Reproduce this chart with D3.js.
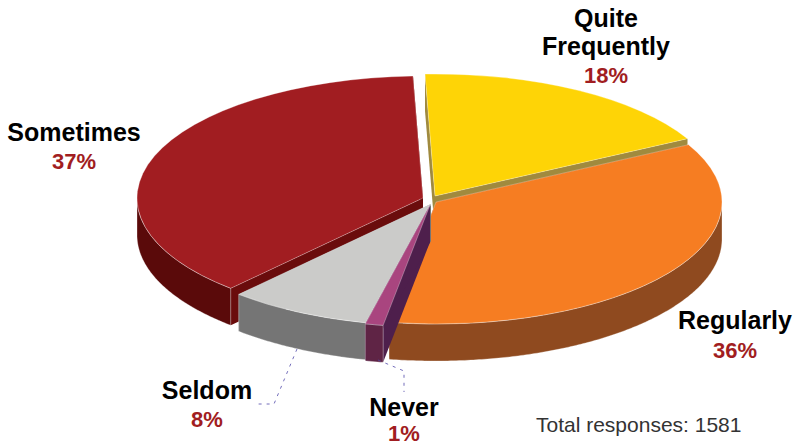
<!DOCTYPE html>
<html>
<head>
<meta charset="utf-8">
<script src="https://cdn.jsdelivr.net/npm/d3@7"></script>
<style>
  html, body { margin: 0; padding: 0; background: #fff; }
  text { font-family: "Liberation Sans", Arial, sans-serif; }
</style>
</head>
<body>
<svg id="chart" width="795" height="446"></svg>
<script>
const categories = ["Quite Frequently", "Regularly", "Never", "Seldom", "Sometimes"];
const percents = [18, 36, 1, 8, 37];
const totalResponses = 1581;

const topColors = ["#fed406", "#f67d22", "#a9457f", "#cbcbc9", "#a11d21"];
const wallColors = ["#a08a3e", "#8f4a1f", "#5f2445", "#757575", "#5a0a0a"];
const cutColors = ["#a08a3e", "#8f4a1f", "#4e1f4c", "#757575", "#6a0c0c"];

// how far each slice is pulled from the pie centre
const explode = [[5, -4], [6, 2], [0, 5], [1, 4], [-7, -2]];
// back to front
const drawOrder = [0, 4, 1, 3, 2];

const labelLines = [["Quite", "Frequently"], ["Regularly"], ["Never"], ["Seldom"], ["Sometimes"]];
const labelPos = [[606, 27], [735, 329], [404, 416], [207, 399], [74, 141]];
const percentGap = [28, 29, 25, 28, 28];
const leaders = [
  null, null,
  [[378, 360], [404, 371], [404, 392]],
  [[297, 349], [274, 404], [256, 404]],
  null
];

const cx = 430, cy = 200, rx = 286, ry = 122, depth = 37;
const lineGap = 28;
const svg = d3.select("#chart");

const pie = d3.pie().sort(null)
  .startAngle(-2 * Math.PI / 180)
  .endAngle((360 - 2) * Math.PI / 180);
const slices = pie(percents);

// the tilted view squeezes the near side of the pie a little
const warp = (t) => t - (3 * Math.PI / 180) * (1 - Math.cos(t)) / 2;
const pt = (t, d) => [d[0] + rx * Math.sin(t), d[1] - ry * Math.cos(t)];

drawOrder.forEach((i) => {
  const start = warp(slices[i].startAngle);
  const end = warp(slices[i].endAngle);
  const o = [cx + explode[i][0], cy + explode[i][1]];
  const g = svg.append("g").attr("class", "slice");

  // flat cut faces between the slices
  [start, end].forEach((t) => {
    const p = pt(t, o);
    g.append("path")
      .attr("d", d3.line()([o, p, [p[0], p[1] + depth], [o[0], o[1] + depth]]) + "Z")
      .attr("fill", cutColors[i]);
  });

  // outer wall, only the part that faces the viewer
  const a0 = Math.max(start, Math.PI / 2);
  const a1 = Math.min(end, Math.PI * 1.5);
  if (a1 > a0) {
    const ts = d3.range(a0, a1, 0.01).concat([a1]);
    g.append("path")
      .attr("d", d3.area()
        .x((t) => pt(t, o)[0])
        .y0((t) => pt(t, o)[1])
        .y1((t) => pt(t, o)[1] + depth)(ts))
      .attr("fill", wallColors[i])
      .attr("stroke", "#fff").attr("stroke-opacity", 0.3).attr("stroke-width", 1);
  }

  // top face
  const arc = d3.arc().innerRadius(0).outerRadius(rx)
    .startAngle(start).endAngle(end);
  g.append("path")
    .attr("d", arc())
    .attr("transform", `translate(${o[0]},${o[1]}) scale(1,${ry / rx})`)
    .attr("fill", topColors[i])
    .attr("stroke", "#fff").attr("stroke-opacity", 0.3)
    .attr("stroke-width", 1).attr("vector-effect", "non-scaling-stroke");
});

// leader lines
leaders.forEach((l) => {
  if (!l) return;
  svg.append("path")
    .attr("d", d3.line()(l))
    .attr("fill", "none")
    .attr("stroke", "#4f47a8")
    .attr("stroke-width", 0.8)
    .attr("stroke-dasharray", "3 5");
});

// labels
categories.forEach((c, i) => {
  const t = svg.append("text").attr("text-anchor", "middle");
  const [x, y] = labelPos[i];
  labelLines[i].forEach((line, k) => {
    t.append("tspan").attr("x", x).attr("y", y + k * lineGap)
      .attr("font-size", 25).attr("font-weight", "bold").attr("fill", "#000")
      .text(line);
  });
  t.append("tspan").attr("x", x)
    .attr("y", y + (labelLines[i].length - 1) * lineGap + percentGap[i])
    .attr("font-size", 22).attr("font-weight", "bold").attr("fill", "#a11d21")
    .text(percents[i] + "%");
});

svg.append("text")
  .attr("x", 536).attr("y", 432)
  .attr("font-size", 21).attr("fill", "#333")
  .text("Total responses: " + totalResponses);
</script>
</body>
</html>
